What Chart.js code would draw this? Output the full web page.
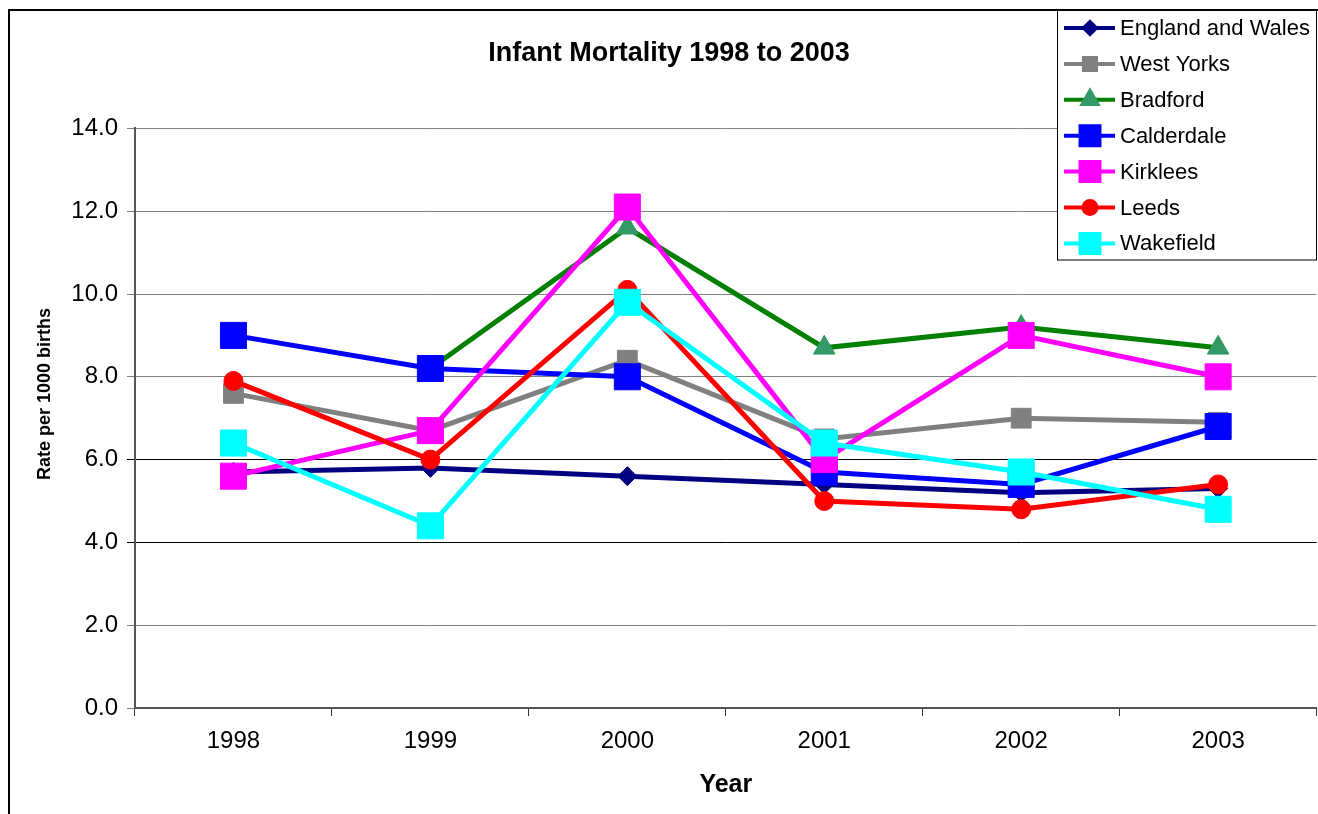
<!DOCTYPE html>
<html>
<head>
<meta charset="utf-8">
<script src="https://cdn.jsdelivr.net/npm/chart.js@4/dist/chart.umd.min.js"></script>
<style>
  html, body { margin: 0; padding: 0; background: #fff; overflow: hidden; }
  #frame { position: absolute; left: 8px; top: 9px; width: 1340px; height: 830px; border: 2px solid #000; }
  #myChart { display: block; }
</style>
</head>
<body>
<div id="frame"><canvas id="myChart" width="1326" height="814"></canvas></div>
<script>
const years = ['1998', '1999', '2000', '2001', '2002', '2003']
const yTicks = [0, 2, 4, 6, 8, 10, 12, 14]

const englandWales = [5.7, 5.8, 5.6, 5.4, 5.2, 5.3]
const westYorks = [7.6, 6.7, 8.4, 6.5, 7.0, 6.9]
const bradford = [null, 8.2, 11.6, 8.7, 9.2, 8.7]
const calderdale = [9.0, 8.2, 8.0, 5.7, 5.4, 6.8]
const kirklees = [5.6, 6.7, 12.1, 6.0, 9.0, 8.0]
const leeds = [7.9, 6.0, 10.1, 5.0, 4.8, 5.4]
const wakefield = [6.4, 4.4, 9.8, 6.4, 5.7, 4.8]

const font = '"Liberation Sans", Arial, sans-serif'

// name, values, line colour, marker colour, marker, marker radius (plot), marker radius (legend)
const series = [
  ['England and Wales', englandWales, '#000080', '#000080', 'rectRot', 9.5, 6],
  ['West Yorks', westYorks, '#808080', '#808080', 'rect', 14, 8.5],
  ['Bradford', bradford, '#008000', '#339966', 'triangle', 12.5, 8.5],
  ['Calderdale', calderdale, '#0000FF', '#0000FF', 'rect', 18.4, 13.4],
  ['Kirklees', kirklees, '#FF00FF', '#FF00FF', 'rect', 18.4, 13.4],
  ['Leeds', leeds, '#FF0000', '#FF0000', 'circle', 9.5, 6.5],
  ['Wakefield', wakefield, '#00FFFF', '#00FFFF', 'rect', 18.4, 13.4]
]

const datasets = series.map((s, i) => ({
  label: s[0],
  data: s[1],
  borderColor: s[2],
  backgroundColor: s[3],
  pointBackgroundColor: s[3],
  pointBorderColor: s[3],
  pointBorderWidth: 1,
  pointStyle: s[4],
  pointRadius: s[5],
  pointHoverRadius: s[5],
  borderWidth: 5,
  tension: 0,
  spanGaps: false,
  order: series.length - i
}))

// legend box sits over the top right of the plot, and the y title is off-centre
const extras = {
  id: 'extras',
  afterDraw(chart) {
    const ctx = chart.ctx
    ctx.save()
    ctx.fillStyle = '#fff'
    ctx.strokeStyle = '#000'
    ctx.lineWidth = 1
    ctx.fillRect(1047, -2, 260, 251)
    ctx.strokeRect(1047.5, -2, 259, 251)
    ctx.font = '22px ' + font
    ctx.textBaseline = 'middle'
    series.forEach((s, i) => {
      const y = 17 + i * 35.9
      ctx.strokeStyle = s[2]
      ctx.lineWidth = 4
      ctx.beginPath()
      ctx.moveTo(1054, y)
      ctx.lineTo(1105, y)
      ctx.stroke()
      ctx.fillStyle = s[3]
      ctx.strokeStyle = s[3]
      Chart.helpers.drawPoint(ctx, { pointStyle: s[4], radius: s[6], rotation: 0, borderWidth: 1 }, 1080, y)
      ctx.fillStyle = '#000'
      ctx.fillText(s[0], 1110, y + 1)
    })
    ctx.translate(35, 383)
    ctx.rotate(-Math.PI / 2)
    ctx.textAlign = 'center'
    ctx.font = 'bold 18px ' + font
    ctx.fillText('Rate per 1000 births', 0, 0)
    ctx.restore()
  }
}

new Chart(document.getElementById('myChart'), {
  type: 'line',
  data: { labels: years, datasets: datasets },
  plugins: [extras],
  options: {
    responsive: false,
    animation: false,
    devicePixelRatio: 1,
    layout: { padding: { left: 0, right: 8, top: 0, bottom: 0 } },
    plugins: {
      legend: { display: false },
      tooltip: { enabled: false },
      title: {
        display: true,
        text: 'Infant Mortality 1998 to 2003',
        color: '#000',
        font: { family: font, size: 27, weight: 'bold' },
        padding: { top: 26, bottom: 59 }
      }
    },
    scales: {
      x: {
        offset: true,
        afterFit: s => { s.height = 117 },
        grid: { offset: true, drawOnChartArea: false, drawTicks: true, tickLength: 8, color: '#333', lineWidth: 1 },
        border: { color: '#555', width: 2 },
        ticks: { color: '#000', padding: 11, font: { family: font, size: 24 } },
        title: {
          display: true, text: 'Year', color: '#000',
          font: { family: font, size: 25, weight: 'bold' },
          padding: { top: 0, bottom: 25 }
        }
      },
      y: {
        min: 0,
        max: 14,
        afterFit: s => { s.width = 125 },
        afterBuildTicks: s => { s.ticks = yTicks.map(v => ({ value: v })) },
        grid: {
          tickLength: 8,
          color: c => (c.tick && (c.tick.value === 4 || c.tick.value === 6)) ? '#000' : '#808080',
          lineWidth: 1
        },
        border: { color: '#555', width: 2 },
        ticks: {
          color: '#000', padding: 9,
          font: { family: font, size: 24 },
          callback: v => Number(v).toFixed(1)
        }
      }
    }
  }
})
</script>
</body>
</html>
